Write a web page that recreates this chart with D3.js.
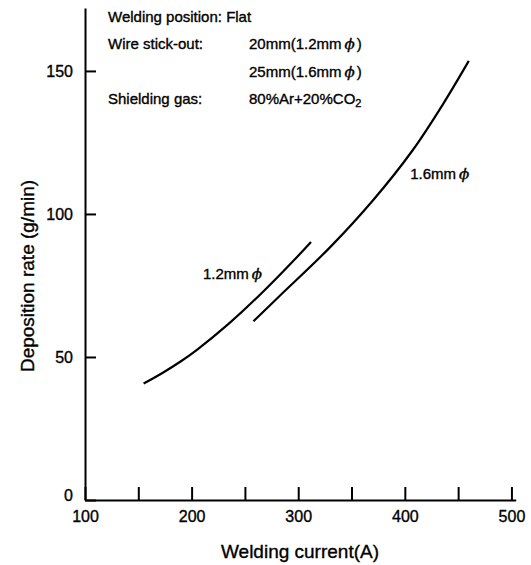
<!DOCTYPE html>
<html>
<head>
<meta charset="utf-8">
<script src="https://cdn.jsdelivr.net/npm/d3@7"></script>
<style>
body{margin:0;background:#fff;}
svg{display:block;font-family:"Liberation Sans",Arial,sans-serif;}
svg text{fill:#000;stroke:#000;stroke-width:0.35px;}
.curve{fill:none;stroke:#000;stroke-width:2.2;}
.axis path,.axis line{stroke:#000;stroke-width:2;}
.axis text{font-size:16px;}
</style>
</head>
<body>
<svg id="chart" width="531" height="565"></svg>
<script>
// welding current (A) vs deposition rate (g/min)
const wire12A=[155,173,190,205,236,267,298,312];
const wire12V=[40.7,44.5,48.5,52.5,62.0,72.8,84.6,90.2];
const wire16A=[258,283,330,370,407,436,460];
const wire16V=[62.5,71.5,88.4,104.7,122.1,138.5,153.5];
const xTicks=[100,150,200,250,300,350,400,450,500];
const yTicks=[0,50,100,150];
const notes=[
  ["Welding position: Flat",""],
  ["Wire stick-out:","20mm(1.2mm"],
  ["","25mm(1.6mm"],
  ["Shielding gas:","80%Ar+20%CO"]
];

const svg=d3.select("#chart");
const x=d3.scaleLinear().domain([100,504]).range([85,515.7]);
const y=d3.scaleLinear().domain([0,172]).range([500,8]);

const xAxis=svg.append("g").attr("class","axis").attr("transform","translate(0,500)")
  .call(d3.axisBottom(x).tickValues(xTicks).tickSizeInner(-13).tickSizeOuter(0).tickPadding(7)
    .tickFormat(d=>d%100===0?d:""));
xAxis.selectAll("text").attr("dy","0.95em");

const yAxis=svg.append("g").attr("class","axis").attr("transform","translate(85,0)")
  .call(d3.axisLeft(y).tickValues(yTicks).tickSizeInner(-11).tickSizeOuter(0).tickPadding(12));
yAxis.selectAll(".tick").filter(d=>d===0).select("text").attr("y",-5);

const line=d3.line().x(d=>x(d[0])).y(d=>y(d[1])).curve(d3.curveCatmullRom.alpha(0.5));
svg.append("path").attr("class","curve").attr("d",line(d3.zip(wire12A,wire12V)));
svg.append("path").attr("class","curve").attr("d",line(d3.zip(wire16A,wire16V)));

function phiLabel(g,txt){
  g.append("tspan").text(txt);
  g.append("tspan").attr("dx",3).style("font-style","italic").style("font-family","'DejaVu Serif',serif").text("\u03D5");
}
const l12=svg.append("text").attr("x",x(266)).attr("y",y(77.4)).attr("text-anchor","end").style("font-size","15px");
phiLabel(l12,"1.2mm");
const l16=svg.append("text").attr("x",x(405)).attr("y",y(112.3)).style("font-size","15px");
phiLabel(l16,"1.6mm");

// condition notes
const ng=svg.append("g").style("font-size","15px");
notes.forEach((n,i)=>{
  const by=22+i*27.3;
  ng.append("text").attr("x",108).attr("y",by).text(n[0]);
  if(!n[1]) return;
  const t=ng.append("text").attr("x",249).attr("y",by);
  if(i<3){
    phiLabel(t,n[1]);
    t.append("tspan").attr("dx",2).text(")");
  }else{
    t.append("tspan").text(n[1]);
    t.append("tspan").attr("dy",3).style("font-size","11px").text("2");
  }
});

svg.append("text").attr("x",300).attr("y",558).attr("text-anchor","middle")
  .style("font-size","19px").text("Welding current(A)");
svg.append("text").attr("transform","translate(34,276) rotate(-90)").attr("text-anchor","middle")
  .style("font-size","19px").text("Deposition rate (g/min)");
</script>
</body>
</html>
